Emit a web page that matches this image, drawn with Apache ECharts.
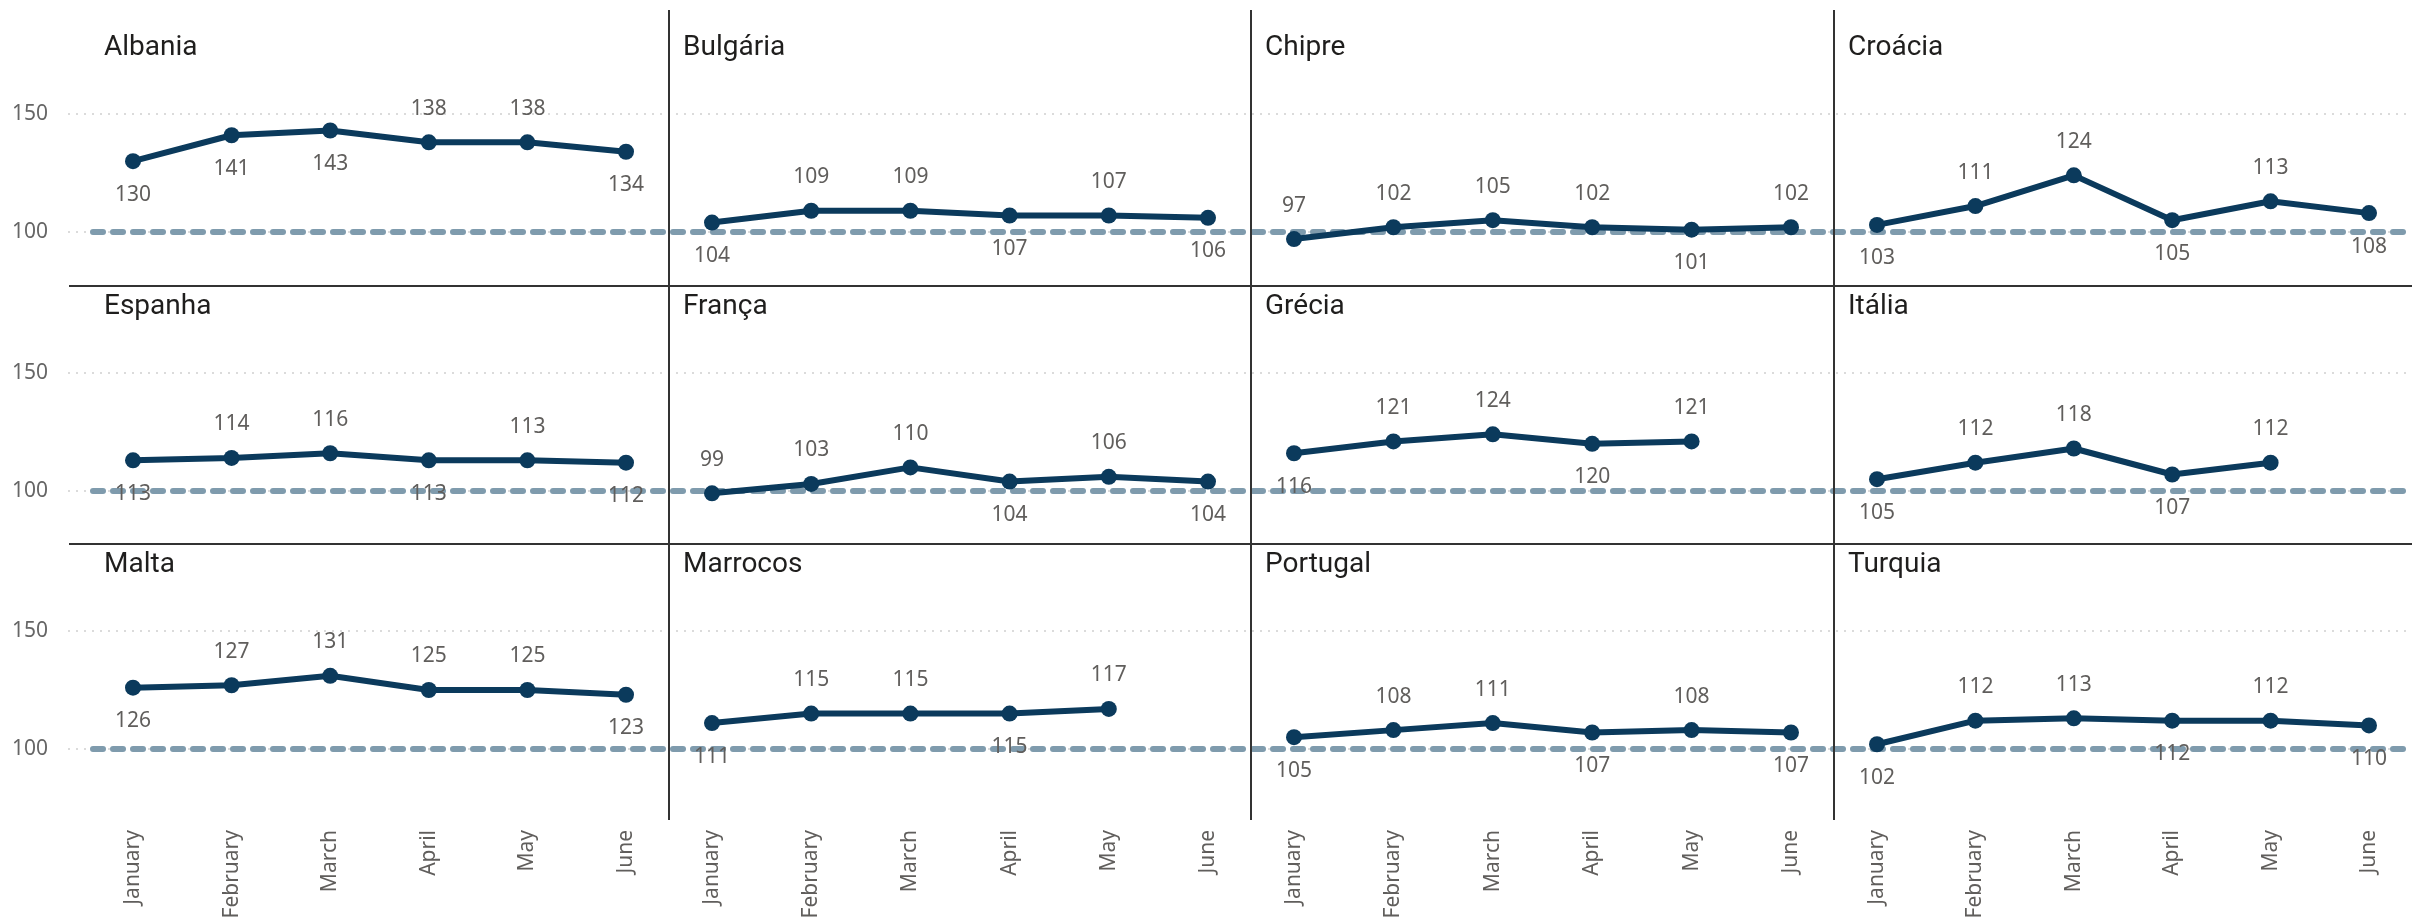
<!DOCTYPE html>
<html>
<head>
<meta charset="utf-8">
<script src="https://cdn.jsdelivr.net/npm/echarts@6/dist/echarts.min.js"></script>
<style>
html,body{margin:0;padding:0;background:#fff;}
#chart{width:2412px;height:920px;}
</style>
</head>
<body>
<div id="chart"></div>
<script>
// ---- data ----
const months = ['January', 'February', 'March', 'April', 'May', 'June'];
const countries = ['Albania', 'Bulgária', 'Chipre', 'Croácia', 'Espanha', 'França', 'Grécia', 'Itália', 'Malta', 'Marrocos', 'Portugal', 'Turquia'];
const albania  = [130, 141, 143, 138, 138, 134];
const bulgaria = [104, 109, 109, 107, 107, 106];
const chipre   = [97, 102, 105, 102, 101, 102];
const croacia  = [103, 111, 124, 105, 113, 108];
const espanha  = [113, 114, 116, 113, 113, 112];
const franca   = [99, 103, 110, 104, 106, 104];
const grecia   = [116, 121, 124, 120, 121];
const italia   = [105, 112, 118, 107, 112];
const malta    = [126, 127, 131, 125, 125, 123];
const marrocos = [111, 115, 115, 115, 117];
const portugal = [105, 108, 111, 107, 108, 107];
const turquia  = [102, 112, 113, 112, 112, 110];
const yTicks = [100, 150];
const referenceValue = 100;

const seriesValues = [albania, bulgaria, chipre, croacia, espanha, franca, grecia, italia, malta, marrocos, portugal, turquia];

// label placement (style only): T = above, B = below
const labelSides = ['BBBTTB', 'BTTBTB', 'TTTTBT', 'BTTBTB', 'BTTBTB', 'TTTBTB', 'BTTBT', 'BTTBT', 'BTTTTB', 'BTTBT', 'BTTBTB', 'BTTBTB'];

// ---- layout ----
const colLeft = [90, 669, 1251, 1834];
const colRight = [669, 1251, 1834, 2412];
const y100 = [232, 491, 749];
const PX = 2.36;
const inset = 43;
const titleCenter = [50, 309, 567];

const lineColor = '#0b3a5c';
const labelColor = '#605e5c';
const labelFont = 'Noto Sans';

const grids = [], xAxes = [], yAxes = [], series = [], titles = [];

for (let r = 0; r < 3; r++) {
  // gridlines + y labels
  let gi = grids.length;
  grids.push({left: 68, right: 0, top: y100[r] - 50 * PX, height: 50 * PX, containLabel: false, outerBoundsMode: 'none'});
  xAxes.push({gridIndex: gi, type: 'category', data: months, show: false});
  yAxes.push({
    gridIndex: gi, type: 'value', min: yTicks[0], max: yTicks[1], interval: yTicks[1] - yTicks[0],
    axisLine: {show: false}, axisTick: {show: false},
    axisLabel: {show: true, color: '#666666', fontSize: 21, fontFamily: labelFont, margin: 20},
    splitLine: {show: true, lineStyle: {type: [2, 6], color: '#cfcfcf', width: 1.5}}
  });
  // dashed reference line at 100
  gi = grids.length;
  grids.push({left: 93, right: 0, top: y100[r] - 50 * PX, height: 50 * PX, containLabel: false, outerBoundsMode: 'none'});
  xAxes.push({
    gridIndex: gi, type: 'category', data: months, z: 3,
    axisLine: {show: true, onZero: false, lineStyle: {color: '#7f9bad', width: 6, type: [10, 10]}},
    axisTick: {show: false}, axisLabel: {show: false}, splitLine: {show: false}
  });
  yAxes.push({gridIndex: gi, type: 'value', min: referenceValue, max: 150, show: false, splitLine: {show: false}});

  for (let c = 0; c < 4; c++) {
    const k = r * 4 + c;
    const g = grids.length;
    grids.push({
      left: colLeft[c] + inset,
      width: colRight[c] - colLeft[c] - 2 * inset,
      top: y100[r] - 75 * PX,
      height: 100 * PX,
      containLabel: false, outerBoundsMode: 'none'
    });
    xAxes.push({
      gridIndex: g, type: 'category', data: months, boundaryGap: false,
      axisLine: {show: false}, axisTick: {show: false}, splitLine: {show: false},
      axisLabel: {show: r === 2, interval: 0, rotate: 90, margin: 22, fontSize: 21, fontFamily: labelFont, color: labelColor}
    });
    yAxes.push({gridIndex: g, type: 'value', min: 75, max: 175, interval: 25, show: false, splitLine: {show: false}});
    series.push({
      name: countries[k], type: 'line', xAxisIndex: g, yAxisIndex: g, z: 10,
      symbol: 'circle', symbolSize: 16, showSymbol: true,
      lineStyle: {color: lineColor, width: 6},
      itemStyle: {color: lineColor},
      label: {show: true, fontSize: 21, fontFamily: labelFont, color: labelColor, distance: 15},
      data: seriesValues[k].map((v, i) => ({
        value: v,
        label: {position: labelSides[k][i] === 'T' ? 'top' : 'bottom'}
      }))
    });
    titles.push({
      text: countries[k], left: colLeft[c] + 14, top: titleCenter[r] - 16, padding: 0,
      textStyle: {fontFamily: 'Roboto', fontSize: 28, fontWeight: 'normal', color: '#1f1e1d'}
    });
  }
}

const graphics = [];
[669, 1251, 1834].forEach(x => graphics.push({
  type: 'line', shape: {x1: x, y1: 10, x2: x, y2: 820}, style: {stroke: '#333333', lineWidth: 2}, z: 20
}));
[286, 544].forEach(y => graphics.push({
  type: 'line', shape: {x1: 69, y1: y, x2: 2412, y2: y}, style: {stroke: '#333333', lineWidth: 2}, z: 20
}));

const chart = echarts.init(document.getElementById('chart'));
chart.setOption({
  animation: false,
  backgroundColor: '#ffffff',
  title: titles,
  grid: grids,
  xAxis: xAxes,
  yAxis: yAxes,
  series: series,
  graphic: graphics,
  tooltip: {show: false}
});
</script>
</body>
</html>
